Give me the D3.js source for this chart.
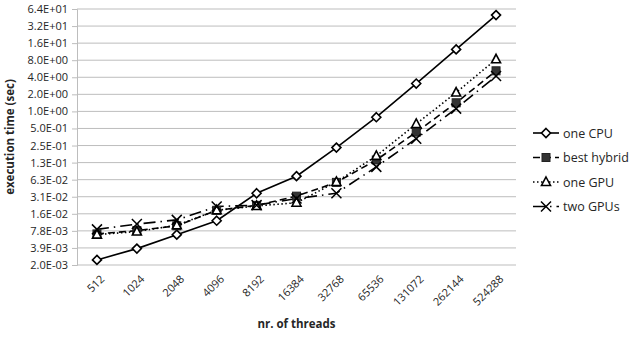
<!DOCTYPE html>
<html>
<head>
    <style>
        body { margin: 0; background: #fff; }
        svg text { font-family: "Open Sans", "Noto Sans", sans-serif; fill: #262626; }
        .tick text { font-size: 11px; }
        .axis-title { font-size: 11.5px; font-weight: bold; }
        .legend text { font-size: 12.5px; }
    </style>
    <script src="https://d3js.org/d3.v7.min.js"></script>
</head>
<body>
    <svg width="633" height="340"></svg>
    <script>
        var threads = ["512", "1024", "2048", "4096", "8192", "16384", "32768", "65536", "131072", "262144", "524288"];

        var oneCPU     = [0.0024, 0.0038, 0.0067, 0.0118, 0.036, 0.072, 0.23, 0.79, 3.1, 12.4, 50];
        var bestHybrid = [0.0069, 0.0079, 0.0096, 0.018, 0.022, 0.032, 0.056, 0.139, 0.43, 1.42, 5.2];
        var oneGPU     = [0.0067, 0.0076, 0.0098, 0.018, 0.0215, 0.0245, 0.057, 0.164, 0.6, 2.15, 8.3];
        var twoGPUs    = [0.0083, 0.0103, 0.0122, 0.021, 0.0222, 0.029, 0.036, 0.105, 0.33, 1.12, 4.2];

        var yTicks = [0.001953125, 0.00390625, 0.0078125, 0.015625, 0.03125, 0.0625, 0.125, 0.25, 0.5, 1, 2, 4, 8, 16, 32, 64];
        var yTickLabels = ["2.0E-03", "3.9E-03", "7.8E-03", "1.6E-02", "3.1E-02", "6.3E-02", "1.3E-01", "2.5E-01",
                           "5.0E-01", "1.0E+00", "2.0E+00", "4.0E+00", "8.0E+00", "1.6E+01", "3.2E+01", "6.4E+01"];

        var series = [
            { name: "one CPU",     values: oneCPU,     dash: null,          marker: "diamond" },
            { name: "best hybrid", values: bestHybrid, dash: "7,4",         marker: "square" },
            { name: "one GPU",     values: oneGPU,     dash: "1.5,2.5",     marker: "triangle" },
            { name: "two GPUs",    values: twoGPUs,    dash: "12,5,1.5,5",  marker: "cross" }
        ];

        var svg = d3.select("svg");
        var plotLeft = 77, plotRight = 516, plotTop = 9, plotBottom = 265;

        var x = d3.scalePoint().domain(threads).range([plotLeft, plotRight]).padding(0.5);
        var y = d3.scaleLog().base(2).domain([yTicks[0], yTicks[yTicks.length - 1]]).range([plotBottom, plotTop]);

        // gridlines
        svg.append("g")
           .selectAll("line")
           .data(yTicks)
           .enter().append("line")
           .attr("x1", plotLeft).attr("x2", plotRight)
           .attr("y1", function(d) { return y(d); })
           .attr("y2", function(d) { return y(d); })
           .attr("stroke", "#bdbdbd")
           .attr("stroke-width", 1);

        // y axis
        var yAxis = svg.append("g")
           .attr("transform", "translate(" + plotLeft + ",0)")
           .call(d3.axisLeft(y).tickValues(yTicks).tickSize(5).tickPadding(4)
                 .tickFormat(function(d, i) { return yTickLabels[i]; }));
        yAxis.select(".domain").attr("stroke", "#bdbdbd");
        yAxis.selectAll(".tick line").attr("stroke", "#bdbdbd");
        yAxis.selectAll(".tick text").attr("fill", "#262626");

        // x axis
        var xAxis = svg.append("g")
           .attr("transform", "translate(0," + plotBottom + ")")
           .call(d3.axisBottom(x).tickSize(0));
        xAxis.select(".domain").remove();
        xAxis.selectAll(".tick text")
             .attr("fill", "#262626")
             .attr("text-anchor", "end")
             .attr("x", 0).attr("y", 0)
             .attr("dy", "0.35em")
             .attr("transform", "translate(5,12) rotate(-45)");

        svg.append("text")
           .attr("class", "axis-title")
           .attr("transform", "translate(14," + ((plotTop + plotBottom) / 2) + ") rotate(-90)")
           .attr("text-anchor", "middle")
           .text("execution  time (sec)");

        svg.append("text")
           .attr("class", "axis-title")
           .attr("x", (plotLeft + plotRight) / 2)
           .attr("y", 328)
           .attr("text-anchor", "middle")
           .text("nr. of threads");

        var line = d3.line()
            .x(function(d, i) { return x(threads[i]); })
            .y(function(d) { return y(d); });

        function drawMarker(g, type) {
            if (type === "diamond") {
                g.append("path").attr("d", "M0,-4.5L4.5,0L0,4.5L-4.5,0Z")
                 .attr("fill", "#fff").attr("stroke", "#000").attr("stroke-width", 1.6);
            } else if (type === "square") {
                g.append("rect").attr("x", -4).attr("y", -4).attr("width", 8).attr("height", 8)
                 .attr("fill", "#333").attr("stroke", "#222").attr("stroke-width", 1);
            } else if (type === "triangle") {
                g.append("path").attr("d", "M0,-5L4.5,3.5L-4.5,3.5Z")
                 .attr("fill", "#fff").attr("stroke", "#000").attr("stroke-width", 1.6);
            } else {
                g.append("path").attr("d", "M-5,-5L5,5M5,-5L-5,5")
                 .attr("fill", "none").attr("stroke", "#000").attr("stroke-width", 1.5);
            }
        }

        series.forEach(function(s) {
            svg.append("path")
               .datum(s.values)
               .attr("d", line)
               .attr("fill", "none")
               .attr("stroke", "#000")
               .attr("stroke-width", 1.6)
               .attr("stroke-dasharray", s.dash);
        });

        series.forEach(function(s) {
            svg.append("g").selectAll("g")
               .data(s.values)
               .enter().append("g")
               .attr("transform", function(d, i) { return "translate(" + x(threads[i]) + "," + y(d) + ")"; })
               .each(function() { drawMarker(d3.select(this), s.marker); });
        });

        // legend
        var legend = svg.append("g").attr("class", "legend");
        series.forEach(function(s, i) {
            var ly = 133 + i * 24.5;
            var item = legend.append("g").attr("transform", "translate(533," + ly + ")");
            item.append("line")
                .attr("x1", 0).attr("x2", 26).attr("y1", 0).attr("y2", 0)
                .attr("stroke", "#000").attr("stroke-width", 1.6)
                .attr("stroke-dasharray", s.dash);
            drawMarker(item.append("g").attr("transform", "translate(13,0)"), s.marker);
            item.append("text").attr("x", 30).attr("y", 4.5).text(s.name);
        });
    </script>
</body>
</html>
